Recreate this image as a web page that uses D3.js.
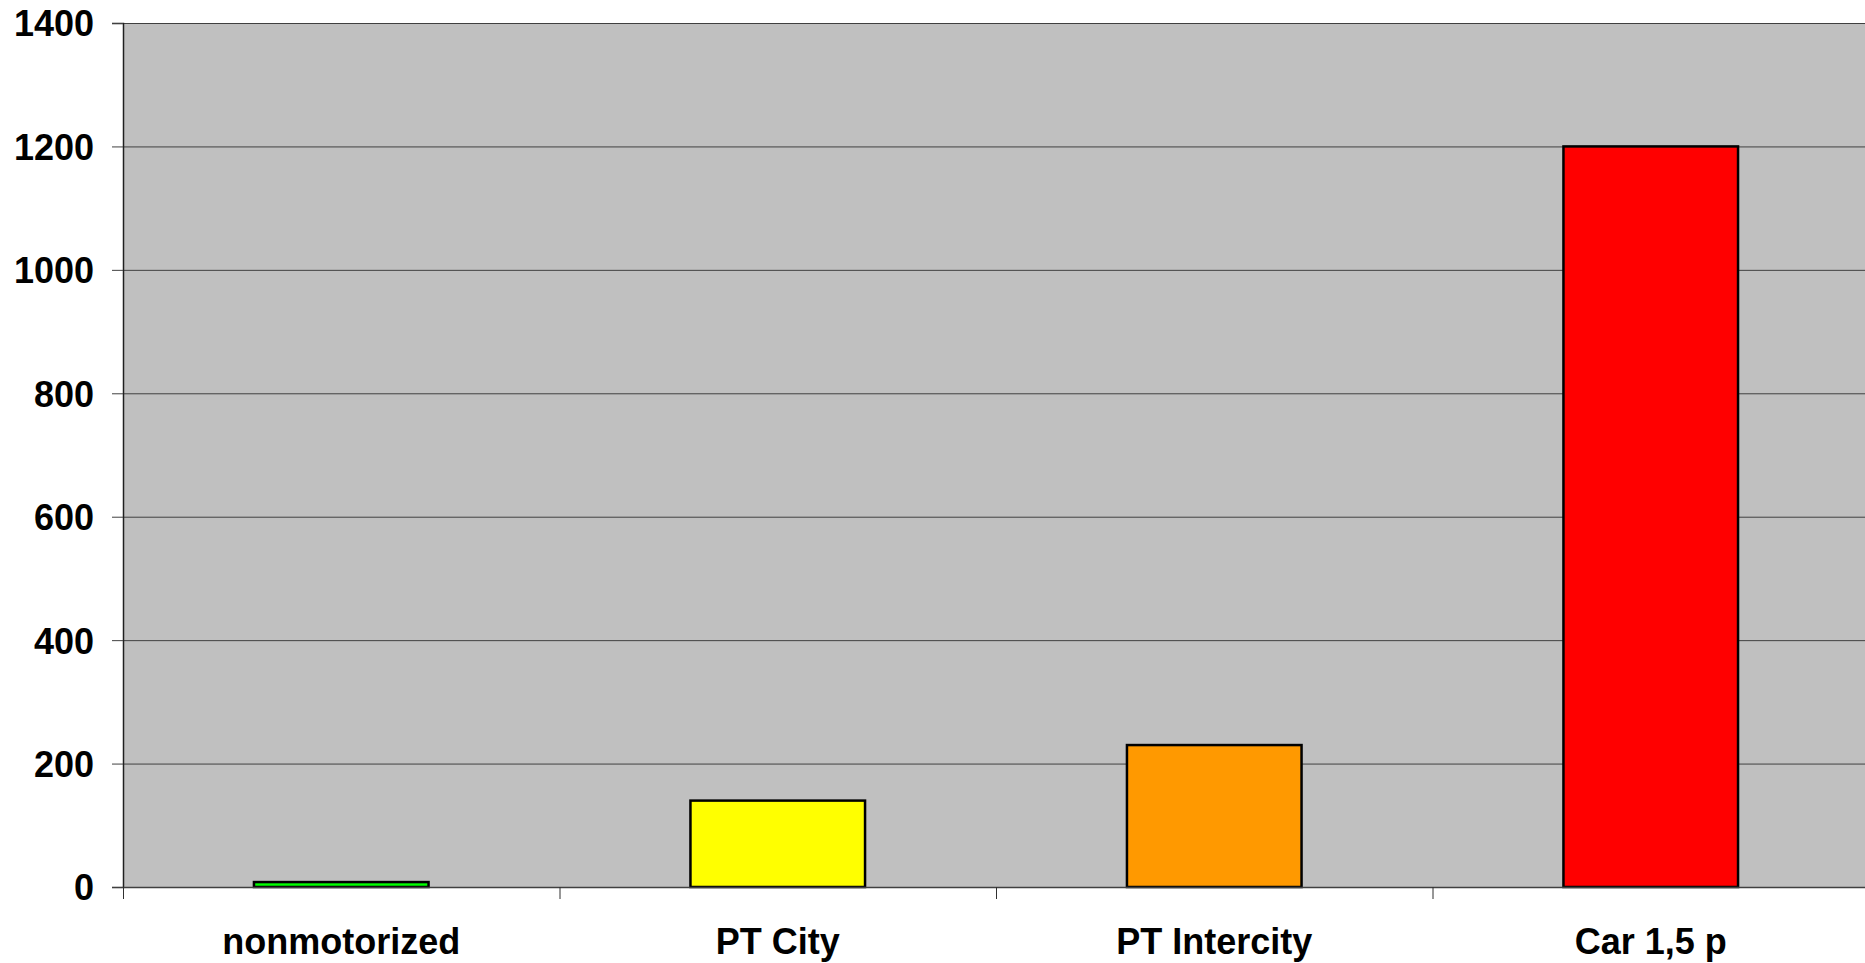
<!DOCTYPE html>
<html>
<head>
<meta charset="utf-8">
<script src="https://cdn.jsdelivr.net/npm/d3@7"></script>
<style>
  body { margin: 0; background: #fff; }
  text { font-family: "Liberation Sans", Arial, sans-serif; font-weight: bold; fill: #000; }
</style>
</head>
<body>
<div id="chart"></div>
<script>
// Chart values
const categories = ['nonmotorized', 'PT City', 'PT Intercity', 'Car 1,5 p'];
const values = [8, 140, 230, 1200];
const barColors = ['#00ff00', '#ffff00', '#ff9900', '#ff0000'];
const yTicks = [0, 200, 400, 600, 800, 1000, 1200, 1400];

const W = 1865, H = 963;
const margin = {top: 23, right: -4, bottom: 76, left: 123};
const width = W - margin.left - margin.right;
const height = H - margin.top - margin.bottom;

const svg = d3.select('#chart').append('svg')
  .attr('width', W)
  .attr('height', H);

const g = svg.append('g')
  .attr('transform', 'translate(' + margin.left + ',' + margin.top + ')');

const x = d3.scaleBand().domain(categories).range([0, width]).paddingInner(0.6).paddingOuter(0.3);
const xb = d3.scaleBand().domain(categories).range([0, width]);
const y = d3.scaleLinear().domain([0, 1400]).range([height, 0]);

// plot area background
g.append('rect')
  .attr('width', width)
  .attr('height', height)
  .attr('fill', '#c0c0c0');

// horizontal gridlines
g.selectAll('.grid').data(yTicks.slice(1)).enter()
  .append('line')
  .attr('class', 'grid')
  .attr('x1', 0).attr('x2', width)
  .attr('y1', d => y(d) + 0.5).attr('y2', d => y(d) + 0.5)
  .attr('stroke', '#404040')
  .attr('stroke-width', 1);

// bars
g.selectAll('.bar').data(values).enter()
  .append('rect')
  .attr('class', 'bar')
  .attr('x', (d, i) => x(categories[i]))
  .attr('y', d => y(d))
  .attr('width', x.bandwidth())
  .attr('height', d => height - y(d))
  .attr('fill', (d, i) => barColors[i])
  .attr('stroke', '#000')
  .attr('stroke-width', 2.5);

// y axis
const yAxis = d3.axisLeft(y).tickValues(yTicks).tickSize(11).tickPadding(18).tickFormat(d3.format('d'));
const ya = g.append('g').call(yAxis);
ya.select('.domain').attr('stroke', '#202020').attr('stroke-width', 1.5);
ya.selectAll('.tick line').attr('stroke', '#404040');
ya.selectAll('.tick text').attr('font-size', 36).attr('dy', '0.36em');

// x axis
const xAxis = d3.axisBottom(xb).tickSize(0).tickPadding(41);
const xa = g.append('g').attr('transform', 'translate(0,' + height + ')').call(xAxis);
xa.select('.domain').attr('stroke', '#404040').attr('stroke-width', 1.5);
xa.selectAll('.tick text').attr('font-size', 36);

// x tick marks at band boundaries
g.selectAll('.xtick').data(categories).enter()
  .append('line')
  .attr('class', 'xtick')
  .attr('x1', d => xb(d) + 0.5).attr('x2', d => xb(d) + 0.5)
  .attr('y1', height).attr('y2', height + 12)
  .attr('stroke', '#303030')
  .attr('stroke-width', 1);
</script>
</body>
</html>
